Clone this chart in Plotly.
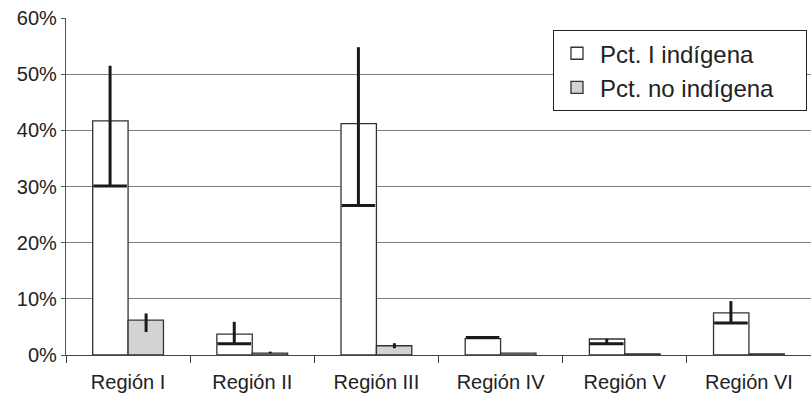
import plotly.graph_objects as go

categories = ["Región I", "Región II", "Región III", "Región IV", "Región V", "Región VI"]
indigena = [41.7, 3.7, 41.2, 2.9, 2.85, 7.5]
indigena_hi = [51.5, 5.9, 54.8, 3.3, 2.9, 9.6]
indigena_lo = [30.1, 2.0, 26.6, 3.1, 2.0, 5.7]
no_indigena = [6.2, 0.35, 1.65, 0.35, 0.2, 0.2]
no_indigena_hi = [7.4, 0.6, 2.1, 0.35, 0.2, 0.2]
no_indigena_lo = [4.1, 0.3, 1.2, 0.35, 0.2, 0.2]
series_names = ["Pct. I indígena", "Pct. no indígena"]
y_ticks = [0, 10, 20, 30, 40, 50, 60]
y_tick_labels = [f"{v}%" for v in y_ticks]

FONT = "Arial"
OFF = 0.145
N = len(categories)
PAD = "\u00a0" * 4  # right padding inside the legend box

fig = go.Figure()
fig.add_trace(go.Bar(
    x=categories, y=indigena, name=series_names[0],
    marker=dict(color="white", line=dict(color="#333333", width=1.3)),
))
fig.add_trace(go.Bar(
    x=categories, y=no_indigena, name=series_names[1] + PAD,
    marker=dict(color="#d3d3d3", line=dict(color="#333333", width=1.3)),
))


def err_lines(hi, lo, off):
    xs, ys = [], []
    for i, (h, l) in enumerate(zip(hi, lo)):
        xs += [i + off, i + off, None]
        ys += [h, l, None]
    return xs, ys


xs, ys = err_lines(indigena_hi, indigena_lo, -OFF)
fig.add_trace(go.Scatter(x=xs, y=ys, xaxis="x2", mode="lines",
                         line=dict(color="#1a1a1a", width=3), showlegend=False, hoverinfo="skip"))
fig.add_trace(go.Scatter(x=[i - OFF for i in range(N)], y=indigena_lo, xaxis="x2",
                         mode="markers", marker=dict(symbol="line-ew", size=24, color="#1a1a1a",
                                                     line=dict(color="#1a1a1a", width=3)),
                         showlegend=False, hoverinfo="skip"))
xs, ys = err_lines(no_indigena_hi, no_indigena_lo, OFF)
fig.add_trace(go.Scatter(x=xs, y=ys, xaxis="x2", mode="lines",
                         line=dict(color="#1a1a1a", width=3), showlegend=False, hoverinfo="skip"))

fig.update_layout(
    width=811, height=394,
    margin=dict(l=66, r=0, t=18, b=39),
    paper_bgcolor="white", plot_bgcolor="white",
    barmode="group", bargap=0.43, bargroupgap=0,
    font=dict(family=FONT, size=20, color="#222222"),
    showlegend=True,
    legend=dict(x=0.9946, y=0.964, xanchor="right", yanchor="top",
                bgcolor="white", bordercolor="#222222", borderwidth=1,
                font=dict(size=24, family=FONT, color="#222222"),
                itemwidth=36, tracegroupgap=0),
    xaxis=dict(type="category", tickson="boundaries", ticks="outside", ticklen=7,
               tickcolor="#444444", showline=True, linecolor="#444444", linewidth=1.2,
               showgrid=False, showticklabels=False),
    xaxis2=dict(overlaying="x", side="bottom", range=[-0.5, N - 0.5], showgrid=False,
                zeroline=False, showline=False, tickvals=list(range(N)), ticktext=categories,
                ticks="outside", ticklen=9, tickcolor="rgba(0,0,0,0)",
                tickfont=dict(size=20, family=FONT, color="#222222")),
    yaxis=dict(range=[0, 60], tickvals=y_ticks, ticktext=y_tick_labels, ticks="outside", ticklen=4,
               tickcolor="#555555", showline=True, linecolor="#555555", linewidth=1.2,
               showgrid=True, gridcolor="#808080", gridwidth=1.2, zeroline=False,
               tickfont=dict(size=20)),
)

fig.write_html("out.html", config={"displayModeBar": False},
               post_script="document.body.style.margin='0';")
